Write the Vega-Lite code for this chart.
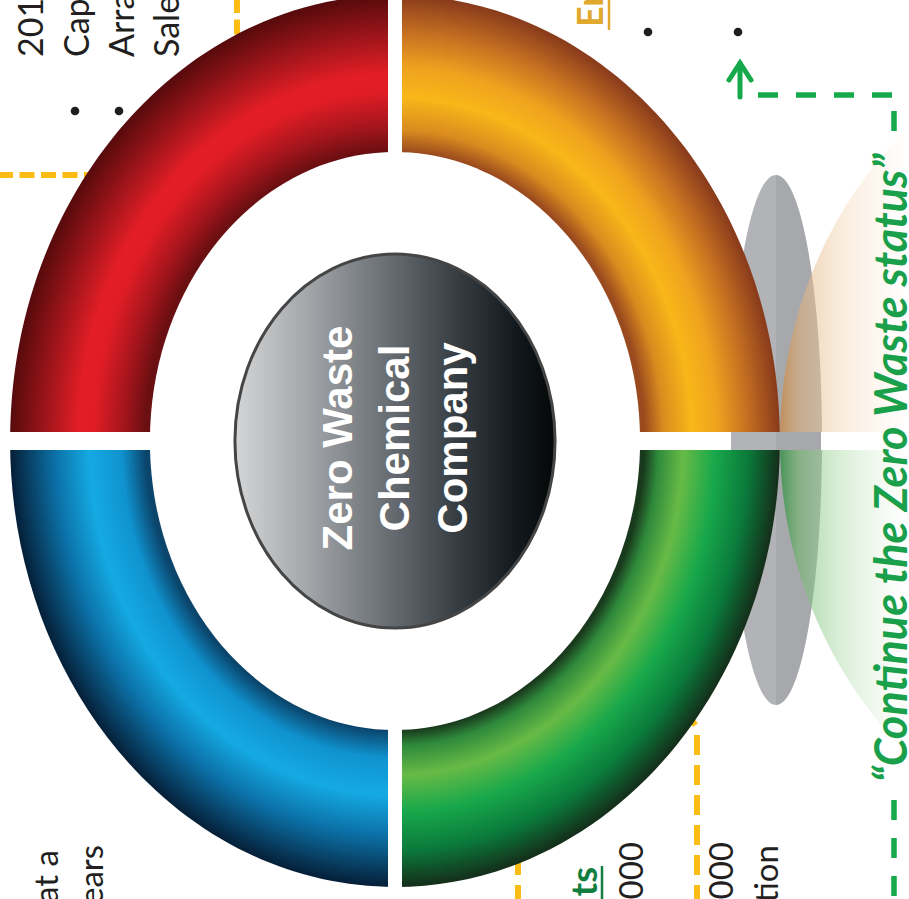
{
  "$schema": "https://vega.github.io/schema/vega-lite/v6.json",
  "width": 909,
  "height": 899,
  "padding": 0,
  "autosize": "none",
  "background": "white",
  "config": {"view": {"stroke": null}},
  "usermeta": {"embedOptions": {"actions": false}},
  "datasets": {
    "bands": [
      {"r": 446}, {"r": 444}, {"r": 442}, {"r": 440}, {"r": 438}, {"r": 436}, {"r": 434}, {"r": 432},
      {"r": 430}, {"r": 428}, {"r": 426}, {"r": 424}, {"r": 422}, {"r": 420}, {"r": 418}, {"r": 416},
      {"r": 414}, {"r": 412}, {"r": 410}, {"r": 408}, {"r": 406}, {"r": 404}, {"r": 402}, {"r": 400},
      {"r": 398}, {"r": 396}, {"r": 394}, {"r": 392}, {"r": 390}, {"r": 388}, {"r": 386}, {"r": 384},
      {"r": 382}, {"r": 380}, {"r": 378}, {"r": 376}, {"r": 374}, {"r": 372}, {"r": 370}, {"r": 368},
      {"r": 366}, {"r": 364}, {"r": 362}, {"r": 360}, {"r": 358}, {"r": 356}, {"r": 354}, {"r": 352},
      {"r": 350}, {"r": 348}, {"r": 346}, {"r": 344}, {"r": 342}, {"r": 340}, {"r": 338}, {"r": 336},
      {"r": 334}, {"r": 332}, {"r": 330}, {"r": 328}, {"r": 326}, {"r": 324}, {"r": 322}, {"r": 320},
      {"r": 318}, {"r": 316}, {"r": 314}, {"r": 312}, {"r": 310}, {"r": 308}, {"r": 306}, {"r": 304},
      {"r": 302}, {"r": 300}, {"r": 298}, {"r": 296}, {"r": 294}, {"r": 292}, {"r": 290}
    ]
  },
  "resolve": {"scale": {"color": "independent"}},
  "layer": [
    {
      "data": {"values": [
        {"path": "a", "i": 0, "x": -2, "y": 175}, {"path": "a", "i": 1, "x": 130, "y": 175},
        {"path": "b", "i": 0, "x": 237, "y": -2}, {"path": "b", "i": 1, "x": 237, "y": 80}
      ]},
      "mark": {"type": "line", "color": "#fbbd14", "strokeWidth": 6, "strokeDash": [15, 6.5], "strokeCap": "butt"},
      "encoding": {
        "x": {"field": "x", "type": "quantitative", "scale": {"domain": [0, 909], "nice": false, "zero": false}, "axis": null},
        "y": {"field": "y", "type": "quantitative", "scale": {"domain": [0, 899], "nice": false, "zero": false, "reverse": true}, "axis": null},
        "detail": {"field": "path"},
        "order": {"field": "i", "type": "quantitative"}
      }
    },
    {
      "data": {"values": [
        {"path": "c", "i": 0, "x": 697, "y": 905}, {"path": "c", "i": 1, "x": 697, "y": 732},
        {"path": "c", "i": 2, "x": 696, "y": 726}, {"path": "c", "i": 3, "x": 693, "y": 722},
        {"path": "c", "i": 4, "x": 688, "y": 720}, {"path": "c", "i": 5, "x": 620, "y": 720},
        {"path": "d", "i": 0, "x": 518, "y": 905}, {"path": "d", "i": 1, "x": 518, "y": 830}
      ]},
      "mark": {"type": "line", "color": "#fbbd14", "strokeWidth": 6, "strokeDash": [20, 10], "strokeCap": "butt"},
      "encoding": {
        "x": {"field": "x", "type": "quantitative", "scale": {"domain": [0, 909], "nice": false, "zero": false}, "axis": null},
        "y": {"field": "y", "type": "quantitative", "scale": {"domain": [0, 899], "nice": false, "zero": false, "reverse": true}, "axis": null},
        "detail": {"field": "path"},
        "order": {"field": "i", "type": "quantitative"}
      }
    },
    {
      "data": {"values": [{"x": 776, "y": 440}]},
      "mark": {"type": "point", "shape": "M0,-1 C-0.0959,-1 -0.1736,-0.5523 -0.1736,0 C-0.1736,0.5523 -0.0959,1 0,1 Z", "filled": true, "opacity": 1, "size": 280900, "fill": "#b1b3b6", "strokeWidth": 0},
      "encoding": {
        "x": {"field": "x", "type": "quantitative", "scale": {"domain": [0, 909], "nice": false, "zero": false}, "axis": null},
        "y": {"field": "y", "type": "quantitative", "scale": {"domain": [0, 899], "nice": false, "zero": false, "reverse": true}, "axis": null}
      }
    },
    {
      "data": {"values": [{"x": 776, "y": 440}]},
      "mark": {"type": "point", "shape": "M0,-1 C0.0959,-1 0.1736,-0.5523 0.1736,0 C0.1736,0.5523 0.0959,1 0,1 Z", "filled": true, "opacity": 1, "size": 280900, "fill": "#a6a8ab", "strokeWidth": 0},
      "encoding": {
        "x": {"field": "x", "type": "quantitative", "scale": {"domain": [0, 909], "nice": false, "zero": false}, "axis": null},
        "y": {"field": "y", "type": "quantitative", "scale": {"domain": [0, 899], "nice": false, "zero": false, "reverse": true}, "axis": null}
      }
    },
    {
      "data": {"name": "bands"},
      "mark": {"type": "point", "shape": "M0,0 L0,-1 C-0.4766,-1 -0.863,-0.5523 -0.863,0 Z", "filled": true, "opacity": 1, "strokeWidth": 0},
      "encoding": {
        "x": {"datum": 395, "type": "quantitative", "scale": {"domain": [0, 909], "nice": false, "zero": false}, "axis": null},
        "y": {"datum": 441, "type": "quantitative", "scale": {"domain": [0, 899], "nice": false, "zero": false, "reverse": true}, "axis": null},
        "size": {"field": "r", "type": "quantitative", "scale": {"type": "pow", "exponent": 2, "domain": [0, 446], "range": [0, 795664]}, "legend": null},
        "color": {"field": "r", "type": "quantitative", "scale": {"domain": [290, 318, 350, 368, 400, 446], "range": ["#6a0f12", "#a8161d", "#e01d26", "#e31e27", "#a9171d", "#580b0d"], "interpolate": "rgb"}, "legend": null},
        "order": {"field": "r", "type": "quantitative", "sort": "descending"}
      }
    },
    {
      "data": {"name": "bands"},
      "mark": {"type": "point", "shape": "M0,0 L0,-1 C0.4766,-1 0.863,-0.5523 0.863,0 Z", "filled": true, "opacity": 1, "strokeWidth": 0},
      "encoding": {
        "x": {"datum": 395, "type": "quantitative", "scale": {"domain": [0, 909], "nice": false, "zero": false}, "axis": null},
        "y": {"datum": 441, "type": "quantitative", "scale": {"domain": [0, 899], "nice": false, "zero": false, "reverse": true}, "axis": null},
        "size": {"field": "r", "type": "quantitative", "scale": {"type": "pow", "exponent": 2, "domain": [0, 446], "range": [0, 795664]}, "legend": null},
        "color": {"field": "r", "type": "quantitative", "scale": {"domain": [290, 312, 345, 375, 410, 446], "range": ["#9a4a1f", "#d98b1f", "#f9b719", "#eea21f", "#c46f22", "#8a3c1c"], "interpolate": "rgb"}, "legend": null},
        "order": {"field": "r", "type": "quantitative", "sort": "descending"}
      }
    },
    {
      "data": {"name": "bands"},
      "mark": {"type": "point", "shape": "M0,0 L0,1 C0.4766,1 0.863,0.5523 0.863,0 Z", "filled": true, "opacity": 1, "strokeWidth": 0},
      "encoding": {
        "x": {"datum": 395, "type": "quantitative", "scale": {"domain": [0, 909], "nice": false, "zero": false}, "axis": null},
        "y": {"datum": 441, "type": "quantitative", "scale": {"domain": [0, 899], "nice": false, "zero": false, "reverse": true}, "axis": null},
        "size": {"field": "r", "type": "quantitative", "scale": {"type": "pow", "exponent": 2, "domain": [0, 446], "range": [0, 795664]}, "legend": null},
        "color": {"field": "r", "type": "quantitative", "scale": {"domain": [290, 306, 335, 372, 410, 446], "range": ["#1a3a1d", "#2f8a3c", "#68bb46", "#18a84b", "#0b7b3c", "#15301b"], "interpolate": "rgb"}, "legend": null},
        "order": {"field": "r", "type": "quantitative", "sort": "descending"}
      }
    },
    {
      "data": {"name": "bands"},
      "mark": {"type": "point", "shape": "M0,0 L0,1 C-0.4766,1 -0.863,0.5523 -0.863,0 Z", "filled": true, "opacity": 1, "strokeWidth": 0},
      "encoding": {
        "x": {"datum": 395, "type": "quantitative", "scale": {"domain": [0, 909], "nice": false, "zero": false}, "axis": null},
        "y": {"datum": 441, "type": "quantitative", "scale": {"domain": [0, 899], "nice": false, "zero": false, "reverse": true}, "axis": null},
        "size": {"field": "r", "type": "quantitative", "scale": {"type": "pow", "exponent": 2, "domain": [0, 446], "range": [0, 795664]}, "legend": null},
        "color": {"field": "r", "type": "quantitative", "scale": {"domain": [290, 318, 355, 395, 446], "range": ["#0b456c", "#1093cf", "#15aae3", "#0c72a8", "#06213a"], "interpolate": "rgb"}, "legend": null},
        "order": {"field": "r", "type": "quantitative", "sort": "descending"}
      }
    },
    {
      "data": {"values": [{"x": 395, "y": 441}]},
      "mark": {"type": "point", "shape": "M0,-1 C0.4683,-1 0.848,-0.5523 0.848,0 C0.848,0.5523 0.4683,1 0,1 C-0.4683,1 -0.848,0.5523 -0.848,0 C-0.848,-0.5523 -0.4683,-1 0,-1 Z", "filled": true, "opacity": 1, "size": 334084, "fill": "white", "strokeWidth": 0},
      "encoding": {
        "x": {"field": "x", "type": "quantitative", "scale": {"domain": [0, 909], "nice": false, "zero": false}, "axis": null},
        "y": {"field": "y", "type": "quantitative", "scale": {"domain": [0, 899], "nice": false, "zero": false, "reverse": true}, "axis": null}
      }
    },
    {
      "data": {"values": [{"x": 1165, "y": 441}]},
      "mark": {"type": "point", "shape": "M0,0 L0,-1 C-0.5063,-1 -0.9167,-0.5523 -0.9167,0 Z", "filled": true, "opacity": 1, "size": 705600, "strokeWidth": 0,
        "fill": {"gradient": "linear", "x1": 0, "y1": 0, "x2": 1, "y2": 0, "stops": [
          {"offset": 0, "color": "rgba(200,135,65,0.75)"},
          {"offset": 0.05, "color": "rgba(225,175,120,0.55)"},
          {"offset": 0.15, "color": "rgba(243,215,182,0.5)"},
          {"offset": 0.27, "color": "rgba(250,236,222,0.35)"},
          {"offset": 0.36, "color": "rgba(255,255,255,0)"}
        ]}},
      "encoding": {
        "x": {"field": "x", "type": "quantitative", "scale": {"domain": [0, 909], "nice": false, "zero": false}, "axis": null},
        "y": {"field": "y", "type": "quantitative", "scale": {"domain": [0, 899], "nice": false, "zero": false, "reverse": true}, "axis": null}
      }
    },
    {
      "data": {"values": [{"x": 1165, "y": 441}]},
      "mark": {"type": "point", "shape": "M0,0 L0,1 C-0.5063,1 -0.9167,0.5523 -0.9167,0 Z", "filled": true, "opacity": 1, "size": 705600, "strokeWidth": 0,
        "fill": {"gradient": "linear", "x1": 0, "y1": 0, "x2": 1, "y2": 0, "stops": [
          {"offset": 0, "color": "rgba(40,140,60,0.75)"},
          {"offset": 0.05, "color": "rgba(110,185,105,0.55)"},
          {"offset": 0.15, "color": "rgba(175,220,170,0.5)"},
          {"offset": 0.27, "color": "rgba(225,242,222,0.35)"},
          {"offset": 0.36, "color": "rgba(255,255,255,0)"}
        ]}},
      "encoding": {
        "x": {"field": "x", "type": "quantitative", "scale": {"domain": [0, 909], "nice": false, "zero": false}, "axis": null},
        "y": {"field": "y", "type": "quantitative", "scale": {"domain": [0, 899], "nice": false, "zero": false, "reverse": true}, "axis": null}
      }
    },
    {
      "data": {"values": [
        {"x": -5, "y": 441, "x2": 731, "y2": 441},
        {"x": 821, "y": 441, "x2": 915, "y2": 441}
      ]},
      "mark": {"type": "rule", "color": "white", "strokeWidth": 18},
      "encoding": {
        "x": {"field": "x", "type": "quantitative", "scale": {"domain": [0, 909], "nice": false, "zero": false}, "axis": null},
        "y": {"field": "y", "type": "quantitative", "scale": {"domain": [0, 899], "nice": false, "zero": false, "reverse": true}, "axis": null},
        "x2": {"field": "x2"},
        "y2": {"field": "y2"}
      }
    },
    {
      "data": {"values": [{"x": 395, "y": -10, "x2": 395, "y2": 910}]},
      "mark": {"type": "rule", "color": "white", "strokeWidth": 14},
      "encoding": {
        "x": {"field": "x", "type": "quantitative", "scale": {"domain": [0, 909], "nice": false, "zero": false}, "axis": null},
        "y": {"field": "y", "type": "quantitative", "scale": {"domain": [0, 899], "nice": false, "zero": false, "reverse": true}, "axis": null},
        "x2": {"field": "x2"},
        "y2": {"field": "y2"}
      }
    },
    {
      "data": {"values": [{"x": 731, "y": 441, "x2": 776, "y2": 441}]},
      "mark": {"type": "rule", "color": "#b1b3b6", "strokeWidth": 18},
      "encoding": {
        "x": {"field": "x", "type": "quantitative", "scale": {"domain": [0, 909], "nice": false, "zero": false}, "axis": null},
        "y": {"field": "y", "type": "quantitative", "scale": {"domain": [0, 899], "nice": false, "zero": false, "reverse": true}, "axis": null},
        "x2": {"field": "x2"},
        "y2": {"field": "y2"}
      }
    },
    {
      "data": {"values": [{"x": 776, "y": 441, "x2": 821, "y2": 441}]},
      "mark": {"type": "rule", "color": "#a6a8ab", "strokeWidth": 18},
      "encoding": {
        "x": {"field": "x", "type": "quantitative", "scale": {"domain": [0, 909], "nice": false, "zero": false}, "axis": null},
        "y": {"field": "y", "type": "quantitative", "scale": {"domain": [0, 899], "nice": false, "zero": false, "reverse": true}, "axis": null},
        "x2": {"field": "x2"},
        "y2": {"field": "y2"}
      }
    },
    {
      "data": {"values": [{"x": 395, "y": 441}]},
      "mark": {"type": "point", "shape": "M0,-1 C0.4728,-1 0.856,-0.5523 0.856,0 C0.856,0.5523 0.4728,1 0,1 C-0.4728,1 -0.856,0.5523 -0.856,0 C-0.856,-0.5523 -0.4728,-1 0,-1 Z", "filled": true, "opacity": 1, "size": 139876, "stroke": "#454545", "strokeWidth": 3,
        "fill": {"gradient": "linear", "x1": 0, "y1": 0, "x2": 1, "y2": 0, "stops": [
          {"offset": 0, "color": "#d4d5d6"},
          {"offset": 0.2, "color": "#a9acaf"},
          {"offset": 0.45, "color": "#6f7479"},
          {"offset": 0.7, "color": "#343c42"},
          {"offset": 0.88, "color": "#12191e"},
          {"offset": 1, "color": "#050707"}
        ]}},
      "encoding": {
        "x": {"field": "x", "type": "quantitative", "scale": {"domain": [0, 909], "nice": false, "zero": false}, "axis": null},
        "y": {"field": "y", "type": "quantitative", "scale": {"domain": [0, 899], "nice": false, "zero": false, "reverse": true}, "axis": null}
      }
    },
    {
      "data": {"values": [
        {"label": "Zero Waste", "x": 352, "y": 438},
        {"label": "Chemical", "x": 409, "y": 438},
        {"label": "Company", "x": 467, "y": 438}
      ]},
      "mark": {"type": "text", "angle": 270, "align": "center", "baseline": "alphabetic", "font": "Liberation Sans", "fontWeight": "bold", "fontSize": 42, "color": "white"},
      "encoding": {
        "x": {"field": "x", "type": "quantitative", "scale": {"domain": [0, 909], "nice": false, "zero": false}, "axis": null},
        "y": {"field": "y", "type": "quantitative", "scale": {"domain": [0, 899], "nice": false, "zero": false, "reverse": true}, "axis": null},
        "text": {"field": "label"}
      }
    },
    {
      "data": {"values": [
        {"label": "201", "x": 43, "y": 57},
        {"label": "Cap", "x": 89, "y": 57},
        {"label": "Arra", "x": 134, "y": 57},
        {"label": "Sale", "x": 179, "y": 57}
      ]},
      "mark": {"type": "text", "angle": 270, "align": "left", "baseline": "alphabetic", "font": "Lato", "fontSize": 34, "color": "#231f20"},
      "encoding": {
        "x": {"field": "x", "type": "quantitative", "scale": {"domain": [0, 909], "nice": false, "zero": false}, "axis": null},
        "y": {"field": "y", "type": "quantitative", "scale": {"domain": [0, 899], "nice": false, "zero": false, "reverse": true}, "axis": null},
        "text": {"field": "label"}
      }
    },
    {
      "data": {"values": [
        {"label": "at a", "x": 58, "y": 850},
        {"label": "years", "x": 103, "y": 845},
        {"label": ",000", "x": 643, "y": 842},
        {"label": ",000", "x": 733, "y": 842},
        {"label": "tion", "x": 778, "y": 845}
      ]},
      "mark": {"type": "text", "angle": 270, "align": "right", "baseline": "alphabetic", "font": "Lato", "fontSize": 33, "color": "#231f20"},
      "encoding": {
        "x": {"field": "x", "type": "quantitative", "scale": {"domain": [0, 909], "nice": false, "zero": false}, "axis": null},
        "y": {"field": "y", "type": "quantitative", "scale": {"domain": [0, 899], "nice": false, "zero": false, "reverse": true}, "axis": null},
        "text": {"field": "label"}
      }
    },
    {
      "data": {"values": [{"label": "En", "x": 603, "y": 27}]},
      "mark": {"type": "text", "angle": 270, "align": "left", "baseline": "alphabetic", "font": "Lato", "fontWeight": "bold", "fontSize": 36, "color": "#e0a82c"},
      "encoding": {
        "x": {"field": "x", "type": "quantitative", "scale": {"domain": [0, 909], "nice": false, "zero": false}, "axis": null},
        "y": {"field": "y", "type": "quantitative", "scale": {"domain": [0, 899], "nice": false, "zero": false, "reverse": true}, "axis": null},
        "text": {"field": "label"}
      }
    },
    {
      "data": {"values": [{"label": "ts", "x": 597, "y": 867}]},
      "mark": {"type": "text", "angle": 270, "align": "right", "baseline": "alphabetic", "font": "Lato", "fontWeight": "bold", "fontSize": 36, "color": "#127f40"},
      "encoding": {
        "x": {"field": "x", "type": "quantitative", "scale": {"domain": [0, 909], "nice": false, "zero": false}, "axis": null},
        "y": {"field": "y", "type": "quantitative", "scale": {"domain": [0, 899], "nice": false, "zero": false, "reverse": true}, "axis": null},
        "text": {"field": "label"}
      }
    },
    {
      "data": {"values": [{"x": 609, "y": -2, "x2": 609, "y2": 30}]},
      "mark": {"type": "rule", "color": "#e0a82c", "strokeWidth": 2.5},
      "encoding": {
        "x": {"field": "x", "type": "quantitative", "scale": {"domain": [0, 909], "nice": false, "zero": false}, "axis": null},
        "y": {"field": "y", "type": "quantitative", "scale": {"domain": [0, 899], "nice": false, "zero": false, "reverse": true}, "axis": null},
        "x2": {"field": "x2"},
        "y2": {"field": "y2"}
      }
    },
    {
      "data": {"values": [{"x": 602, "y": 866, "x2": 602, "y2": 905}]},
      "mark": {"type": "rule", "color": "#127f40", "strokeWidth": 2.5},
      "encoding": {
        "x": {"field": "x", "type": "quantitative", "scale": {"domain": [0, 909], "nice": false, "zero": false}, "axis": null},
        "y": {"field": "y", "type": "quantitative", "scale": {"domain": [0, 899], "nice": false, "zero": false, "reverse": true}, "axis": null},
        "x2": {"field": "x2"},
        "y2": {"field": "y2"}
      }
    },
    {
      "data": {"values": [
        {"x": 75, "y": 111}, {"x": 119, "y": 111}, {"x": 648, "y": 32}, {"x": 738, "y": 32}
      ]},
      "mark": {"type": "point", "shape": "circle", "filled": true, "opacity": 1, "size": 75, "color": "#1e1e1e", "strokeWidth": 0},
      "encoding": {
        "x": {"field": "x", "type": "quantitative", "scale": {"domain": [0, 909], "nice": false, "zero": false}, "axis": null},
        "y": {"field": "y", "type": "quantitative", "scale": {"domain": [0, 899], "nice": false, "zero": false, "reverse": true}, "axis": null}
      }
    },
    {
      "data": {"values": [
        {"path": "g1", "i": 0, "x": 758, "y": 95}, {"path": "g1", "i": 1, "x": 894, "y": 95}, {"path": "g1", "i": 2, "x": 894, "y": 140},
        {"path": "g2", "i": 0, "x": 894, "y": 800}, {"path": "g2", "i": 1, "x": 894, "y": 905}
      ]},
      "mark": {"type": "line", "color": "#16a94b", "strokeWidth": 5.5, "strokeDash": [20, 18], "strokeCap": "butt"},
      "encoding": {
        "x": {"field": "x", "type": "quantitative", "scale": {"domain": [0, 909], "nice": false, "zero": false}, "axis": null},
        "y": {"field": "y", "type": "quantitative", "scale": {"domain": [0, 899], "nice": false, "zero": false, "reverse": true}, "axis": null},
        "detail": {"field": "path"},
        "order": {"field": "i", "type": "quantitative"}
      }
    },
    {
      "data": {"values": [
        {"path": "stem", "i": 0, "x": 740, "y": 97}, {"path": "stem", "i": 1, "x": 740, "y": 63},
        {"path": "head", "i": 0, "x": 729, "y": 80}, {"path": "head", "i": 1, "x": 740, "y": 63}, {"path": "head", "i": 2, "x": 751, "y": 80}
      ]},
      "mark": {"type": "line", "color": "#16a94b", "strokeWidth": 5, "strokeCap": "round", "strokeJoin": "miter"},
      "encoding": {
        "x": {"field": "x", "type": "quantitative", "scale": {"domain": [0, 909], "nice": false, "zero": false}, "axis": null},
        "y": {"field": "y", "type": "quantitative", "scale": {"domain": [0, 899], "nice": false, "zero": false, "reverse": true}, "axis": null},
        "detail": {"field": "path"},
        "order": {"field": "i", "type": "quantitative"}
      }
    },
    {
      "data": {"values": [{"label": "“Continue the Zero Waste status”", "x": 907, "y": 468}]},
      "mark": {"type": "text", "angle": 270, "align": "center", "baseline": "alphabetic", "font": "Lato", "fontWeight": "bold", "fontStyle": "italic", "fontSize": 45, "color": "#1aa04b"},
      "encoding": {
        "x": {"field": "x", "type": "quantitative", "scale": {"domain": [0, 909], "nice": false, "zero": false}, "axis": null},
        "y": {"field": "y", "type": "quantitative", "scale": {"domain": [0, 899], "nice": false, "zero": false, "reverse": true}, "axis": null},
        "text": {"field": "label"}
      }
    }
  ]
}
